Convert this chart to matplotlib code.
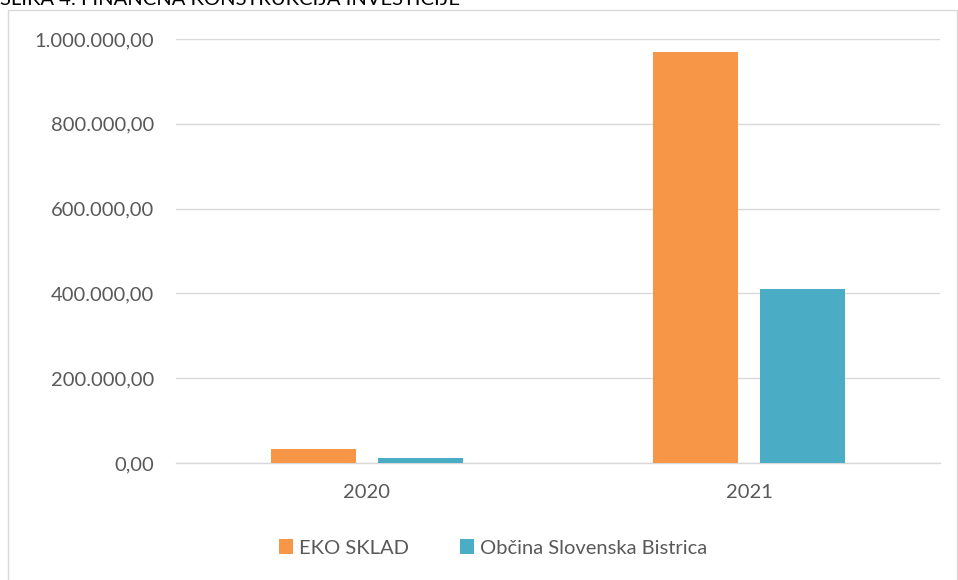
import matplotlib

matplotlib.use("Agg")
import matplotlib.pyplot as plt
import numpy as np
from matplotlib.patches import Rectangle
from matplotlib.ticker import FuncFormatter

years = ["2020", "2021"]
eko_sklad = [33000, 968500]
obcina = [11800, 410500]
series_names = ["EKO SKLAD", "Občina Slovenska Bistrica"]
colors = ["#F79646", "#4BACC6"]
y_ticks = [0, 200000, 400000, 600000, 800000, 1000000]

plt.rcParams["font.family"] = ["Lato", "DejaVu Sans"]


def fmt_eur(v, _pos=None):
    s = f"{v:,.2f}"
    return s.replace(",", "X").replace(".", ",").replace("X", ".")


fig = plt.figure(figsize=(9.58, 5.8), dpi=100)
# outer chart border
fig.patches.append(Rectangle((8 / 958, -0.01), 949 / 958, 1.01 - 10 / 580, transform=fig.transFigure,
                             fill=False, edgecolor="#D9D9D9", linewidth=1))
# caption sits mostly above the image edge, as in the source
fig.text(0.0, 1 - 5 / 580, "SLIKA 4: FINANČNA KONSTRUKCIJA INVESTICIJE", ha="left", va="baseline",
         fontsize=14.5, color="#000000")

ax = fig.add_axes([176 / 958, 1 - 463 / 580, (940 - 176) / 958, (463 - 39) / 580])
x = np.arange(len(years))
w = 0.2225
gap = 0.06
ax.bar(x - (w + gap) / 2, eko_sklad, w, color=colors[0], label=series_names[0], zorder=3)
ax.bar(x + (w + gap) / 2, obcina, w, color=colors[1], label=series_names[1], zorder=3)

ax.set_xlim(-0.5, 1.5)
ax.set_ylim(0, 1000000)
ax.set_yticks(y_ticks)
ax.yaxis.set_major_formatter(FuncFormatter(fmt_eur))
ax.set_xticks(x)
ax.set_xticklabels(years)
ax.grid(axis="y", color="#D9D9D9", linewidth=1, zorder=0)
for side in ["top", "right", "left"]:
    ax.spines[side].set_visible(False)
ax.spines["bottom"].set_color("#D9D9D9")
ax.spines["bottom"].set_linewidth(1)
ax.tick_params(axis="both", length=0, labelsize=14.5, labelcolor="#595959")
ax.tick_params(axis="y", pad=16)
ax.tick_params(axis="x", pad=15)

fig.legend(loc="center", bbox_to_anchor=(493 / 958, 1 - 548 / 580), ncol=2, frameon=False,
           fontsize=14.5, labelcolor="#595959", handlelength=0.7, handleheight=0.7,
           handletextpad=0.3, columnspacing=2.5)

fig.savefig("out.png", dpi=100)
